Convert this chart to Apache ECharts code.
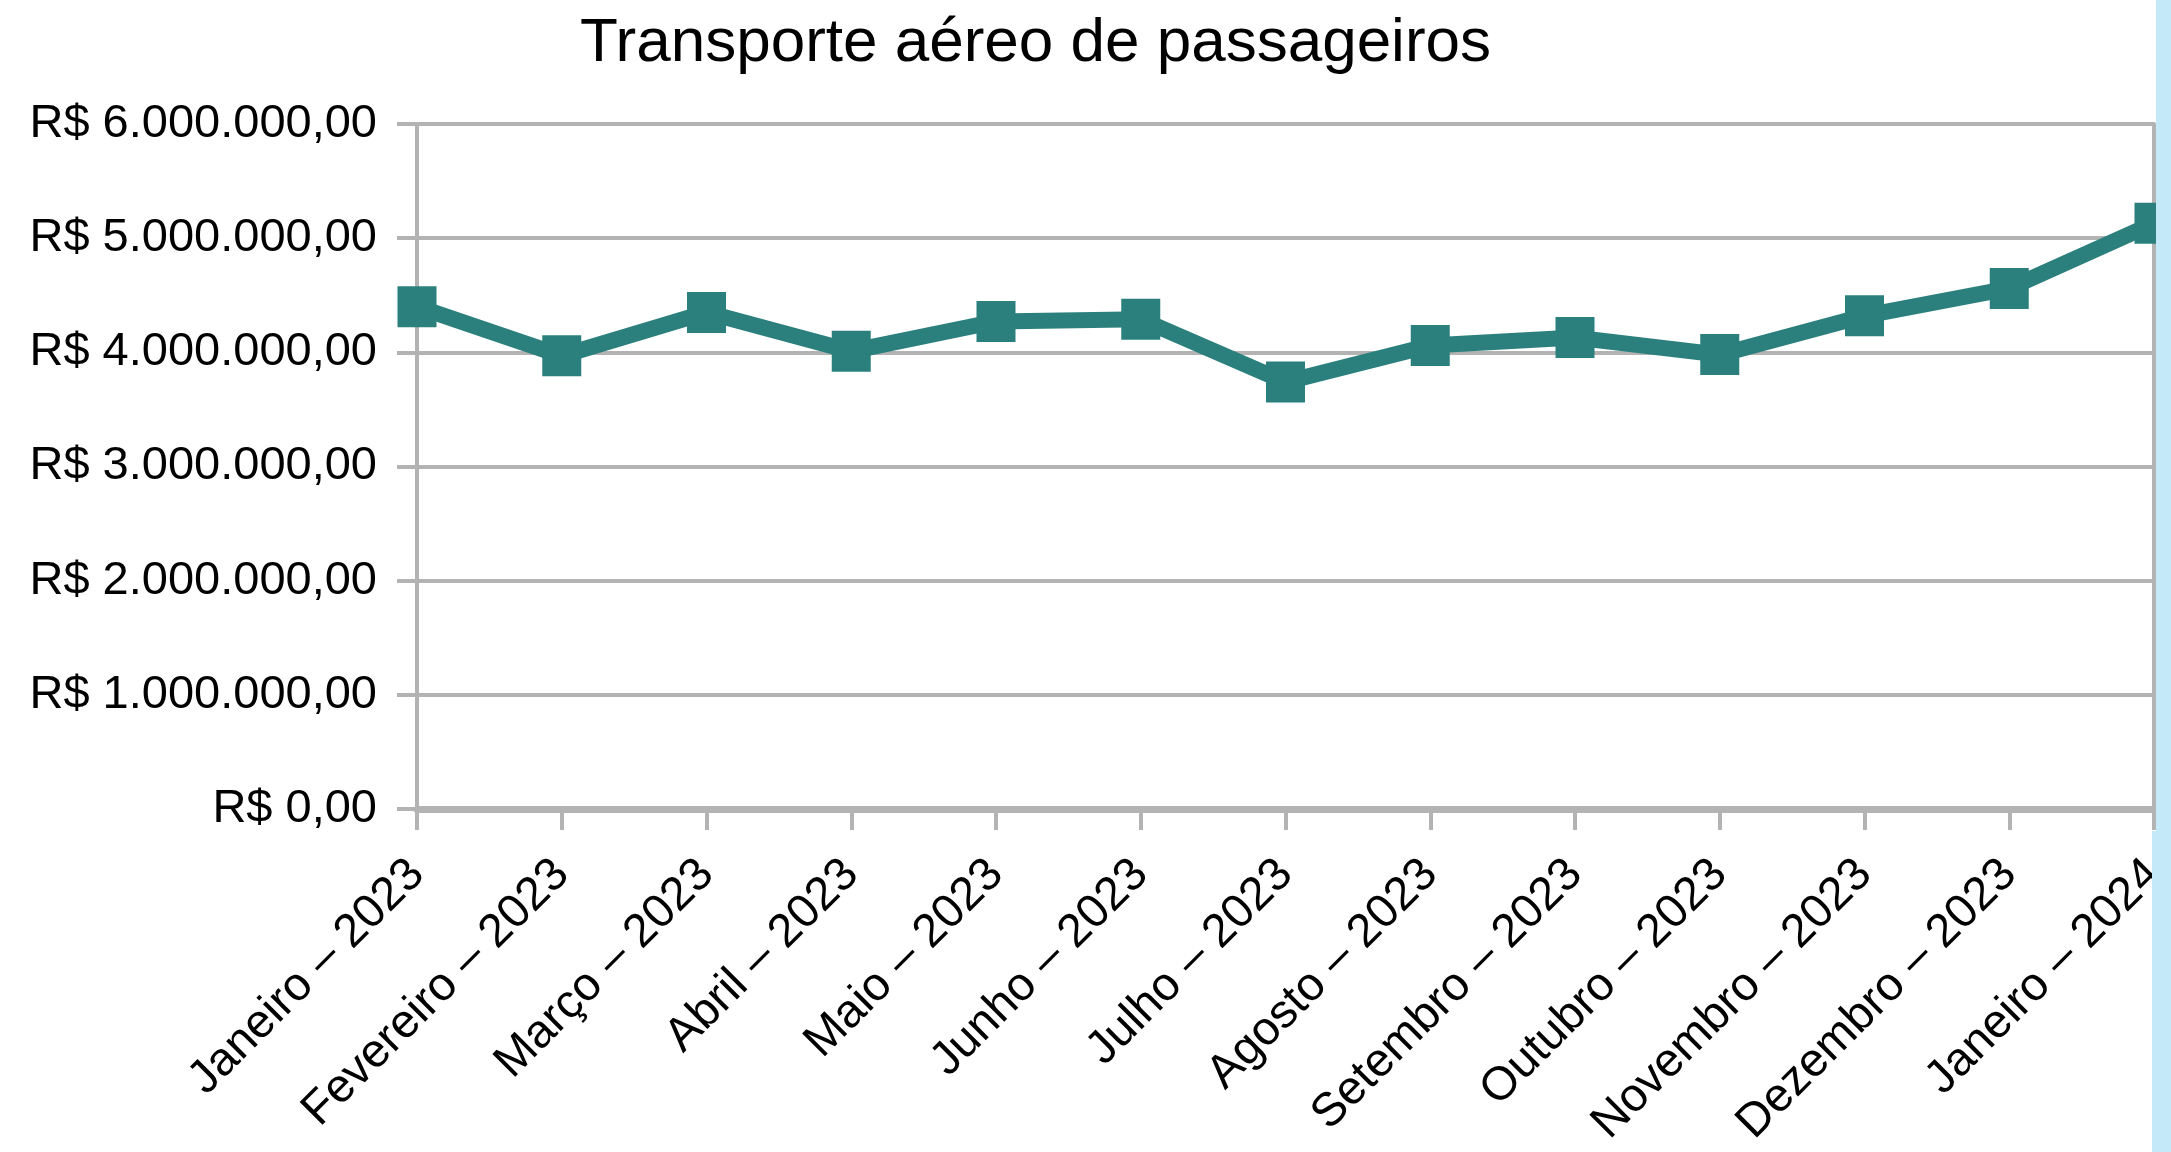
<!DOCTYPE html>
<html>
<head>
<meta charset="utf-8">
<script src="https://cdn.jsdelivr.net/npm/echarts@6/dist/echarts.min.js"></script>
<style>
html,body{margin:0;padding:0;background:#fff;}
#chart{width:2171px;height:1152px;}
</style>
</head>
<body>
<div id="chart"></div>
<script>
const titleText = "Transporte aéreo de passageiros";
const categories = [
  "Janeiro – 2023", "Fevereiro – 2023", "Março – 2023", "Abril – 2023",
  "Maio – 2023", "Junho – 2023", "Julho – 2023", "Agosto – 2023",
  "Setembro – 2023", "Outubro – 2023", "Novembro – 2023", "Dezembro – 2023",
  "Janeiro – 2024"
];
const values = [
  4400000, 3970000, 4350000, 4010000, 4270000, 4290000, 3740000,
  4060000, 4130000, 3980000, 4320000, 4560000, 5130000
];
const yMin = 0, yMax = 6000000, yInterval = 1000000;

function brl(v) {
  const neg = v < 0;
  v = Math.abs(v);
  let int = Math.floor(v);
  let cents = Math.round((v - int) * 100);
  let s = String(int).replace(/\B(?=(\d{3})+(?!\d))/g, ".");
  return (neg ? "-" : "") + "R$ " + s + "," + String(cents).padStart(2, "0");
}

const gray = "#b3b3b3";
const teal = "#2b807d";
const font = "'Liberation Sans', Arial, sans-serif";

const chart = echarts.init(document.getElementById("chart"), null, {renderer: "canvas"});
chart.setOption({
  backgroundColor: "#ffffff",
  animation: false,
  title: {
    text: titleText,
    left: 580,
    top: 13,
    padding: 0,
    textStyle: {fontFamily: font, fontSize: 62, fontWeight: "normal", color: "#000"}
  },
  grid: {left: 417, right: 17, top: 124, bottom: 343, containLabel: false, outerBoundsMode: "none"},
  xAxis: {
    type: "category",
    data: categories,
    boundaryGap: false,
    axisLine: {show: true, lineStyle: {color: gray, width: 7}},
    axisTick: {show: true, length: 21, alignWithLabel: true, lineStyle: {color: gray, width: 4}},
    axisLabel: {
      rotate: 45, interval: 0, margin: 58,
      fontFamily: font, fontSize: 47, color: "#000"
    },
    splitLine: {show: false}
  },
  yAxis: [{
    type: "value",
    min: yMin, max: yMax, interval: yInterval,
    axisLine: {show: true, lineStyle: {color: gray, width: 4}},
    axisTick: {show: true, length: 20, lineStyle: {color: gray, width: 4}},
    axisLabel: {
      margin: 40, fontFamily: font, fontSize: 47, color: "#000",
      formatter: brl
    },
    splitLine: {show: true, lineStyle: {color: gray, width: 4}}
  }, {
    type: "value",
    position: "right",
    min: yMin, max: yMax, interval: yInterval,
    axisLine: {show: true, lineStyle: {color: gray, width: 4}},
    axisTick: {show: false},
    axisLabel: {show: false},
    splitLine: {show: false}
  }],
  series: [{
    type: "line",
    data: values,
    yAxisIndex: 0,
    symbol: "rect",
    symbolSize: [39, 41],
    showSymbol: true,
    lineStyle: {color: teal, width: 16, join: "miter"},
    itemStyle: {color: teal},
    z: 2
  }],
  graphic: [
    {type: "rect", left: 2156, top: 0, shape: {width: 15, height: 1152}, style: {fill: "#c4e9f8"}, z: 100},
    {type: "rect", left: 2152, top: 831, shape: {width: 19, height: 321}, style: {fill: "#c4e9f8"}, z: 100}
  ]
});
</script>
</body>
</html>
